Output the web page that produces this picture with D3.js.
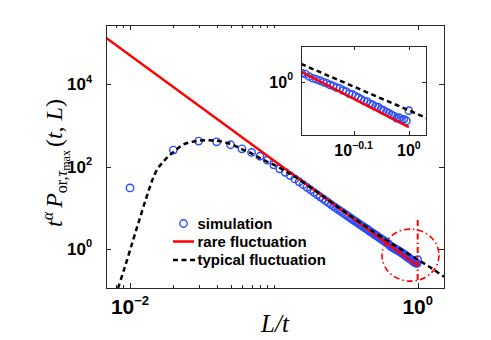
<!DOCTYPE html>
<html lang="en">
<head>
<meta charset="UTF-8">
<title>Scaling of t^a P vs L/t</title>
<script src="https://d3js.org/d3.v7.min.js"></script>
<style>
  body { margin: 0; background: #fff; }
  svg text { font-family: "Liberation Sans", Arial, Helvetica, sans-serif; fill: #000; }
  .serif { font-family: "Liberation Serif", "Times New Roman", serif; }
</style>
</head>
<body>
<div id="chart"></div>
<script>
// simulation points: x = L/t, y = t^a P
const simX = [0.01, 0.02, 0.03, 0.04, 0.05, 0.06, 0.07, 0.08, 0.09, 0.10,
              0.11, 0.12, 0.13, 0.14, 0.15, 0.16, 0.17, 0.18, 0.19, 0.20,
              0.21, 0.22, 0.23, 0.24, 0.25, 0.26, 0.27, 0.28, 0.29, 0.30,
              0.31, 0.32, 0.33, 0.34, 0.35, 0.36, 0.37, 0.38, 0.39, 0.40,
              0.41, 0.42, 0.43, 0.44, 0.45, 0.46, 0.47, 0.48, 0.49, 0.50,
              0.51, 0.52, 0.53, 0.54, 0.55, 0.56, 0.57, 0.58, 0.59, 0.60,
              0.61, 0.62, 0.63, 0.64, 0.65, 0.66, 0.67, 0.68, 0.69, 0.70,
              0.71, 0.72, 0.73, 0.74, 0.75, 0.76, 0.77, 0.78, 0.79, 0.80,
              0.81, 0.82, 0.83, 0.84, 0.85, 0.86, 0.87, 0.88, 0.89, 0.90,
              0.91, 0.92, 0.93, 0.94, 0.95, 0.96, 0.97, 0.98, 0.99, 1.00];
const simY = [30.2, 251, 417, 398, 339, 269, 221, 178, 143, 110,
              88.3, 72.4, 60.3, 50.1, 42.7, 36.3, 31.3, 27.2, 23.7, 20.9,
              18.4, 16.4, 14.6, 13.2, 11.9, 10.8, 9.89, 9.02, 8.32, 7.67,
              7.08, 6.61, 6.10, 5.69, 5.31, 4.95, 4.62, 4.37, 4.07, 3.85,
              3.63, 3.43, 3.24, 3.09, 2.92, 2.75, 2.63, 2.48, 2.37, 2.26,
              2.16, 2.07, 1.97, 1.88, 1.80, 1.73, 1.65, 1.58, 1.52, 1.46,
              1.40, 1.35, 1.30, 1.19, 1.17, 1.11, 1.07, 1.05, 1.02, 0.989,
              0.966, 0.933, 0.912, 0.881, 0.871, 0.832, 0.813, 0.776, 0.767, 0.741,
              0.716, 0.692, 0.668, 0.661, 0.631, 0.617, 0.596, 0.589, 0.562, 0.550,
              0.531, 0.519, 0.501, 0.490, 0.468, 0.473, 0.452, 0.457, 0.442, 0.547];

// rare fluctuation (power law, straight in log-log)
const rareX = [0.0068, 1];
const rareY = [135000, 0.389];

// typical fluctuation curve
const typX = [0.00826, 0.00916, 0.0105, 0.0116, 0.0129, 0.0138, 0.0147, 0.0157, 0.0170, 0.0186,
              0.0205, 0.0234, 0.0299, 0.0390, 0.0501, 0.0603, 0.0708, 0.0794, 0.0912, 0.107,
              0.123, 0.145, 0.200, 0.251, 0.316, 0.398, 0.501, 0.631, 0.794, 1.0, 1.259, 1.524];
const typY = [0.112, 0.339, 1.62, 5.01, 16.2, 33.0, 60.0, 92.0, 130, 180,
              240, 340, 425, 427, 355, 263, 204, 162, 129, 97.7,
              74.1, 52.5, 24.0, 13.5, 7.59, 4.37, 2.51, 1.48, 0.902, 0.550, 0.331, 0.209];

const xMajor = [0.01, 1];
const xMajorExp = ["\u22122", "0"];
const xMinor = [0.008, 0.009, 0.02, 0.03, 0.04, 0.05, 0.06, 0.07, 0.08, 0.09, 0.1];
const yMajor = [1, 100, 10000];
const yMajorExp = ["0", "2", "4"];
const insetXTicks = [0.7943, 1];
const insetXExp = ["\u22120.1", "0"];
const insetYTicks = [1];
const insetYExp = ["0"];
const legendLabels = ["simulation", "rare fluctuation", "typical fluctuation"];

const W = 491, H = 340;
const blue = "#2b4cff", red = "#ff0000", axisCol = "#262626";
const pts = simX.map((v, i) => ({x: v, y: simY[i]}));
const rare = rareX.map((v, i) => ({x: v, y: rareY[i]}));
const typ = typX.map((v, i) => ({x: v, y: typY[i]}));

const svg = d3.select("#chart").append("svg")
    .attr("width", W).attr("height", H);

const mainBox = {left: 106, top: 25, right: 444, bottom: 288};
const x = d3.scaleLog().domain([0.00681, 1.524]).range([mainBox.left, mainBox.right]);
const y = d3.scaleLog().domain([0.112, 2.75e5]).range([mainBox.bottom, mainBox.top]);

const insetBox = {left: 301, top: 46, right: 426, bottom: 135};
const ix = d3.scaleLog().domain([0.638, 1.074]).range([insetBox.left, insetBox.right]);
const iy = d3.scaleLog().domain([0.330, 2.09]).range([insetBox.bottom, insetBox.top]);

const defs = svg.append("defs");
function clip(id, b) {
    defs.append("clipPath").attr("id", id).append("rect")
        .attr("x", b.left).attr("y", b.top)
        .attr("width", b.right - b.left).attr("height", b.bottom - b.top);
}
clip("clipMain", mainBox);
clip("clipInset", insetBox);

function powLabel(g, px, py, exp, size, supSize, anchor) {
    const t = g.append("text").attr("x", px).attr("y", py)
        .attr("text-anchor", anchor).attr("font-weight", "bold")
        .attr("font-size", size);
    t.append("tspan").text("10");
    t.append("tspan").attr("dy", -size * 0.45).attr("font-size", supSize).text(exp);
}

function drawSeries(g, sx, sy, clipId, data, r) {
    const layer = g.append("g").attr("clip-path", `url(#${clipId})`);
    layer.selectAll("circle.sim").data(data).enter().append("circle")
        .attr("class", "sim")
        .attr("cx", d => sx(d.x)).attr("cy", d => sy(d.y)).attr("r", r)
        .attr("fill", "none").attr("stroke", blue).attr("stroke-width", 1.4);
    const line = d3.line().x(d => sx(d.x)).y(d => sy(d.y));
    layer.append("path").datum(rare).attr("d", line)
        .attr("fill", "none").attr("stroke", red).attr("stroke-width", 2.5);
    layer.append("path").datum(typ).attr("d", line.curve(d3.curveCatmullRom))
        .attr("fill", "none").attr("stroke", "#000").attr("stroke-width", 2.5)
        .attr("stroke-dasharray", "5,3.5");
}

// ---------- main axes ----------
const gMain = svg.append("g");
drawSeries(gMain, x, y, "clipMain", pts, 3.7);

gMain.append("rect")
    .attr("x", mainBox.left + 0.5).attr("y", mainBox.top + 0.5)
    .attr("width", mainBox.right - mainBox.left).attr("height", mainBox.bottom - mainBox.top)
    .attr("fill", "none").attr("stroke", axisCol).attr("stroke-width", 1);

const ticks = gMain.append("g").attr("stroke", axisCol).attr("stroke-width", 1);
xMajor.concat(xMinor).forEach(v => {
    const len = xMajor.includes(v) ? 5 : 3;
    const px = Math.round(x(v)) + 0.5;
    ticks.append("line").attr("x1", px).attr("x2", px)
        .attr("y1", mainBox.bottom).attr("y2", mainBox.bottom - len);
    ticks.append("line").attr("x1", px).attr("x2", px)
        .attr("y1", mainBox.top).attr("y2", mainBox.top + len);
});
yMajor.forEach(v => {
    const py = Math.round(y(v)) + 0.5;
    ticks.append("line").attr("x1", mainBox.left).attr("x2", mainBox.left + 5)
        .attr("y1", py).attr("y2", py);
    ticks.append("line").attr("x1", mainBox.right).attr("x2", mainBox.right - 5)
        .attr("y1", py).attr("y2", py);
});

xMajor.forEach((v, i) => powLabel(gMain, x(v), 314, xMajorExp[i], 21, 13, "middle"));
yMajor.forEach((v, i) => powLabel(gMain, 92, y(v) + 6, yMajorExp[i], 17, 11, "end"));

// axis titles
const xt = svg.append("text").attr("class", "serif")
    .attr("x", 275).attr("y", 332).attr("text-anchor", "middle")
    .attr("font-size", 25).attr("font-style", "italic");
xt.text("L/t");

const yt = svg.append("text").attr("class", "serif")
    .attr("transform", "translate(62,163) rotate(-90)")
    .attr("text-anchor", "middle").attr("font-size", 24);
yt.append("tspan").attr("font-style", "italic").text("t");
yt.append("tspan").attr("font-style", "italic").attr("font-size", 16).attr("dy", -9).text("\u03b1");
yt.append("tspan").attr("font-style", "italic").attr("dy", 9).attr("dx", 4).text("P");
yt.append("tspan").attr("font-size", 16).attr("dy", 5).text("or,");
yt.append("tspan").attr("font-style", "italic").attr("font-size", 16).text("\u03c4");
yt.append("tspan").attr("font-size", 12).attr("dy", 3).text("max");
yt.append("tspan").attr("dy", -8).attr("dx", 3).text("(");
yt.append("tspan").attr("font-style", "italic").text("t");
yt.append("tspan").text(", ");
yt.append("tspan").attr("font-style", "italic").text("L");
yt.append("tspan").text(")");

// legend
const lg = svg.append("g");
const legY = [223.5, 241.5, 260];
lg.append("circle").attr("cx", 183.5).attr("cy", legY[0]).attr("r", 3.7)
    .attr("fill", "none").attr("stroke", blue).attr("stroke-width", 1.4);
lg.append("line").attr("x1", 173).attr("x2", 194).attr("y1", legY[1]).attr("y2", legY[1])
    .attr("stroke", red).attr("stroke-width", 2.5);
lg.append("line").attr("x1", 173).attr("x2", 195).attr("y1", legY[2]).attr("y2", legY[2])
    .attr("stroke", "#000").attr("stroke-width", 2.5).attr("stroke-dasharray", "5,3.5");
legendLabels.forEach((s, i) => {
    lg.append("text").attr("x", 197.5).attr("y", legY[i] + 5.3)
        .attr("font-size", 15).attr("font-weight", "bold").text(s);
});

// red dash-dot highlight around the last point
const hl = svg.append("g").attr("fill", "none").attr("stroke", red)
    .attr("stroke-width", 1.6).attr("stroke-dasharray", "6,3,1.5,3");
hl.append("ellipse").attr("cx", x(0.891)).attr("cy", y(0.703)).attr("rx", 28.5).attr("ry", 26);
hl.append("line").attr("x1", x(1)).attr("x2", x(1)).attr("y1", y(5.0)).attr("y2", y(0.155))
    .attr("stroke-width", 2);

// ---------- inset ----------
const gIn = svg.append("g");
gIn.append("rect").attr("x", insetBox.left).attr("y", insetBox.top)
    .attr("width", insetBox.right - insetBox.left).attr("height", insetBox.bottom - insetBox.top)
    .attr("fill", "#fff");
drawSeries(gIn, ix, iy, "clipInset", pts.filter(d => d.x >= 0.638), 3.6);
gIn.append("rect")
    .attr("x", insetBox.left + 0.5).attr("y", insetBox.top + 0.5)
    .attr("width", insetBox.right - insetBox.left).attr("height", insetBox.bottom - insetBox.top)
    .attr("fill", "none").attr("stroke", axisCol).attr("stroke-width", 1);
const iticks = gIn.append("g").attr("stroke", axisCol).attr("stroke-width", 1);
insetXTicks.forEach(v => {
    const px = Math.round(ix(v)) + 0.5;
    iticks.append("line").attr("x1", px).attr("x2", px)
        .attr("y1", insetBox.bottom).attr("y2", insetBox.bottom - 4);
    iticks.append("line").attr("x1", px).attr("x2", px)
        .attr("y1", insetBox.top).attr("y2", insetBox.top + 4);
});
insetYTicks.forEach(v => {
    const py = Math.round(iy(v)) + 0.5;
    iticks.append("line").attr("x1", insetBox.left).attr("x2", insetBox.left + 4)
        .attr("y1", py).attr("y2", py);
    iticks.append("line").attr("x1", insetBox.right).attr("x2", insetBox.right - 4)
        .attr("y1", py).attr("y2", py);
});
insetXTicks.forEach((v, i) => powLabel(gIn, ix(v), 156, insetXExp[i], 16, 10.5, "middle"));
insetYTicks.forEach((v, i) => powLabel(gIn, 293, iy(v) + 6, insetYExp[i], 16, 10.5, "end"));
</script>
</body>
</html>
